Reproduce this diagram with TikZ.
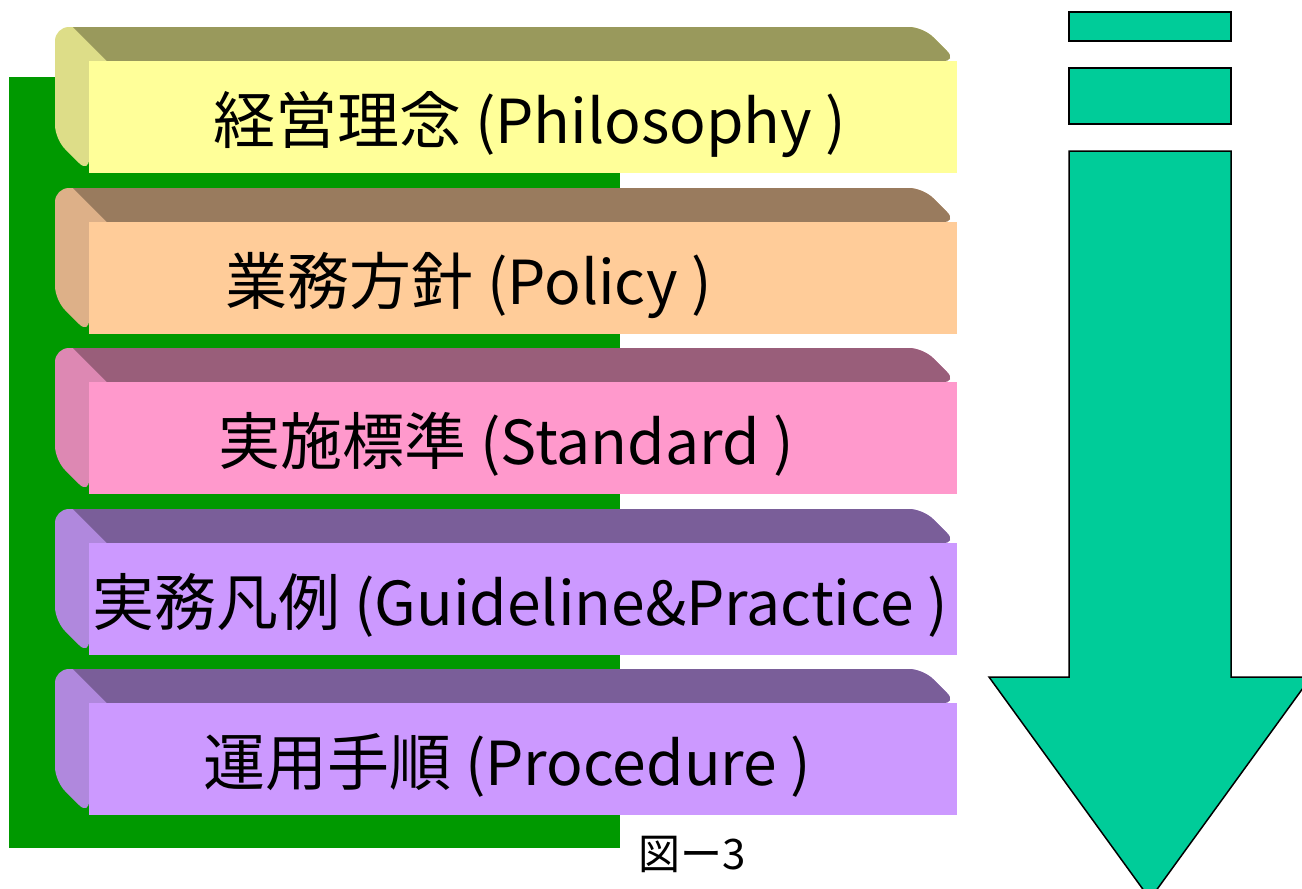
\documentclass[tikz,border=0pt]{standalone}
\usepackage{fontspec}
\setmainfont{Noto Sans CJK JP}
\definecolor{grn}{HTML}{009900}
\definecolor{arr}{HTML}{00CC99}
\definecolor{aF}{HTML}{FFFF99}\definecolor{aT}{HTML}{99995C}\definecolor{aL}{HTML}{DDDD88}
\definecolor{bF}{HTML}{FFCC99}\definecolor{bT}{HTML}{997B5E}\definecolor{bL}{HTML}{DDB088}
\definecolor{cF}{HTML}{FF99CC}\definecolor{cT}{HTML}{995E7A}\definecolor{cL}{HTML}{DD88B3}
\definecolor{dF}{HTML}{CC99FF}\definecolor{dT}{HTML}{7A5E99}\definecolor{dL}{HTML}{B088DD}
\newcommand\threedbar[4]{%
  \fill[#2, rounded corners=14pt] (89,#1+112) -- (55,#1+78) -- (55,#1-34) -- (923,#1-34) -- (957,#1) -- (89,#1) -- cycle;
  \fill[#3] (73,#1-34) [rounded corners=14pt] -- (923,#1-34) -- (957,#1) [sharp corners] -- (107,#1) -- cycle;
  \fill[#4] (89,#1) rectangle (957,#1+112);
}
\newcommand\latn[1]{{\fontsize{60.6}{70}\selectfont #1}}
\tikzset{lab/.style={anchor=base west, inner sep=0pt, font=\fontsize{62}{70}\selectfont},
  arrowshape/.style={fill=arr, draw=black, line width=1.5pt}}
\begin{document}
\begin{tikzpicture}[x=1pt,y=-1pt]
\useasboundingbox (0,0) rectangle (1302,889);
\fill[grn] (9,77) rectangle (620,848);
\threedbar{61}{aL}{aT}{aF}
\threedbar{222}{bL}{bT}{bF}
\threedbar{382}{cL}{cT}{cF}
\threedbar{543}{dL}{dT}{dF}
\threedbar{703}{dL}{dT}{dF}
\node[lab] (t1) at (213,143) {経営理念 \latn{(Philosophy )}};
\node[lab] (t2) at (225,304) {業務方針 \latn{(Policy )}};
\node[lab] (t3) at (218,464) {実施標準 \latn{(Standard )}};
\node[lab] (t4) at (92,625) {実務凡例 \latn{(Guideline\&Practice )}};
\node[lab] (t5) at (203,785) {運用手順 \latn{(Procedure )}};
\node[anchor=base west, inner sep=0pt, font=\fontsize{42}{44}\selectfont] (cap) at (638,869) {図ー3};
\draw[arrowshape] (1069,12) rectangle (1231,41);
\draw[arrowshape] (1069,68) rectangle (1231,124);
\begin{scope}
\clip (0,0) rectangle (1302,889);
\draw[arrowshape] (1069,151) -- (1231,151) -- (1231,677) -- (1311,677) -- (1150,899) -- (989,677) -- (1069,677) -- cycle;
\end{scope}
\end{tikzpicture}
\end{document}
